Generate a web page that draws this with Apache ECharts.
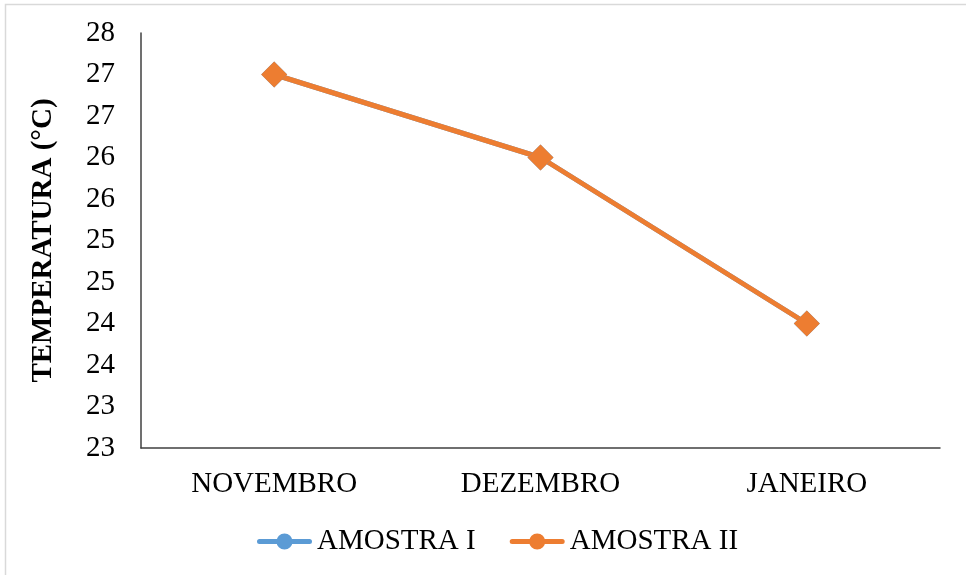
<!DOCTYPE html>
<html><head><meta charset="utf-8">
<script src="https://cdn.jsdelivr.net/npm/echarts@6/dist/echarts.min.js"></script>
<style>html,body{margin:0;padding:0;background:#fff}#c{width:966px;height:575px}</style>
</head><body><div id="c"></div>
<script>
const categories = ['NOVEMBRO', 'DEZEMBRO', 'JANEIRO'];
const amostraI = [27, 26, 24];
const amostraII = [27, 26, 24];
const seriesNames = ['AMOSTRA I', 'AMOSTRA II'];
const yTitle = 'TEMPERATURA (°C)';

const FONT = '"Liberation Serif", "Times New Roman", serif';
const legendIcon = 'path://M2.5,5.5 L52.5,5.5 A2.5,2.5 0 0,1 52.5,10.5 L2.5,10.5 A2.5,2.5 0 0,1 2.5,5.5 Z M27.5,0 A8,8 0 1,1 27.49,0 Z';

const chart = echarts.init(document.getElementById('c'), null, {renderer: 'canvas'});
chart.setOption({
  animation: false,
  backgroundColor: '#fff',
  graphic: [{
    type: 'rect', shape: {x: 5.5, y: 4.5, width: 980, height: 600},
    style: {fill: 'none', stroke: '#d9d9d9', lineWidth: 1.5}, silent: true
  }],
  grid: {left: 141, top: 33, right: 26, bottom: 127},
  legend: {
    data: seriesNames,
    bottom: 14, left: 252,
    icon: legendIcon,
    itemWidth: 55, itemHeight: 16, itemGap: 34,
    textStyle: {fontFamily: FONT, fontSize: 29, color: '#000'}
  },
  xAxis: {
    type: 'category', data: categories, boundaryGap: true,
    axisLine: {lineStyle: {color: '#404040', width: 1.5}},
    axisTick: {show: false},
    axisLabel: {fontFamily: FONT, fontSize: 29, color: '#000', margin: 22},
    splitLine: {show: false}
  },
  yAxis: {
    type: 'value', min: 22.5, max: 27.5, interval: 0.5,
    name: yTitle, nameLocation: 'middle', nameGap: 83, nameRotate: 90,
    nameTextStyle: {fontFamily: FONT, fontSize: 29, fontWeight: 'bold', color: '#000'},
    axisLine: {show: true, lineStyle: {color: '#404040', width: 1.5}},
    axisTick: {show: false},
    splitLine: {show: false},
    axisLabel: {fontFamily: FONT, fontSize: 29, color: '#000', margin: 26,
      formatter: v => Math.round(v).toString()}
  },
  series: [
    {name: seriesNames[0], type: 'line', data: amostraI, color: '#5B9BD5',
     symbol: 'diamond', symbolSize: 26, lineStyle: {width: 5}},
    {name: seriesNames[1], type: 'line', data: amostraII, color: '#ED7D31',
     symbol: 'diamond', symbolSize: 26, lineStyle: {width: 5}}
  ]
});
</script></body></html>
